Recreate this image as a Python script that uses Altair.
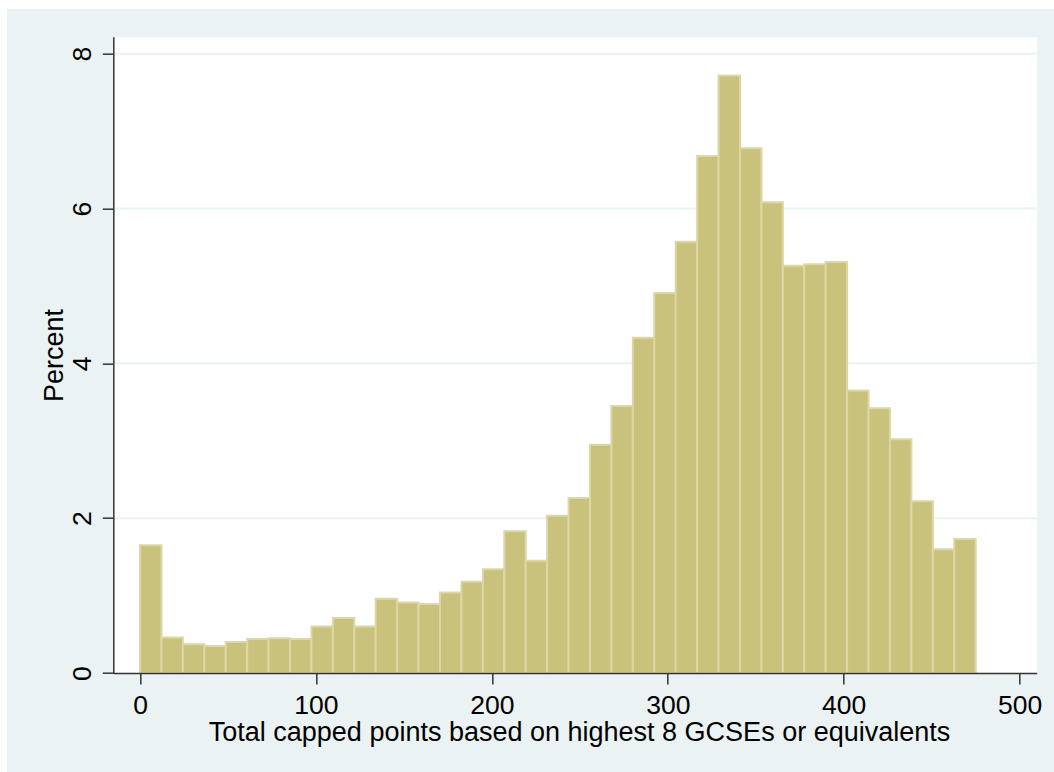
import altair as alt
import pandas as pd

# Histogram of capped GCSE point scores (percent of pupils in each bin)
BIN_WIDTH = 12.18
percent = [
    1.65, 0.46, 0.37, 0.35, 0.40, 0.44, 0.45, 0.44, 0.60, 0.71,
    0.60, 0.96, 0.91, 0.89, 1.04, 1.18, 1.34, 1.83, 1.45, 2.03,
    2.26, 2.95, 3.45, 4.33, 4.91, 5.57, 6.68, 7.72, 6.78, 6.08,
    5.26, 5.28, 5.31, 3.65, 3.42, 3.02, 2.22, 1.60, 1.73,
]
x_ticks = [0, 100, 200, 300, 400, 500]
y_ticks = [0, 2, 4, 6, 8]
y_grid = [2, 4, 6, 8]

x_title = "Total capped points based on highest 8 GCSEs or equivalents"
y_title = "Percent"

bins = pd.DataFrame({
    "start": [i * BIN_WIDTH for i in range(len(percent))],
    "end": [(i + 1) * BIN_WIDTH for i in range(len(percent))],
    "percent": percent,
})
grid_df = pd.DataFrame({"percent": y_grid})

FONT = "Liberation Sans"
BG = "#EAF2F3"
FILL = "#C9C27D"
EDGE = "#DCD7A3"
AXIS = "#333333"
FS_LABEL = 26.5
FS_TITLE = 27

W, H = 923.4, 636.3
PAD = {"left": 113.3, "top": 36.7, "right": 17.3, "bottom": 99}

x_scale = alt.Scale(domain=[-15.2, 509.7], nice=False, zero=False)
y_scale = alt.Scale(domain=[0, 8.22], nice=False, zero=False)

x_axis = alt.Axis(
    values=x_ticks, grid=False, zindex=1,
    domainColor=AXIS, domainWidth=1.5,
    tickColor=AXIS, tickWidth=1.5, tickSize=11,
    labelFont=FONT, labelFontSize=FS_LABEL, labelColor="black",
    labelAngle=0, labelBaseline="alphabetic", labelPadding=29.5,
    labelFlush=False, labelOverlap=False,
    title=x_title, titleFont=FONT, titleFontSize=FS_TITLE, titleFontWeight="normal",
    titleColor="black", titleAlign="center", titleBaseline="alphabetic",
    titleX=465.7, titleY=67.5,
)
y_axis = alt.Axis(
    values=y_ticks, grid=False, zindex=1,
    domainColor=AXIS, domainWidth=1.5,
    tickColor=AXIS, tickWidth=1.5, tickSize=11,
    labelFont=FONT, labelFontSize=FS_LABEL, labelColor="black",
    labelAngle=270, labelAlign="center", labelBaseline="alphabetic",
    labelPadding=12.3, labelOverlap=False, labelFlush=False,
    title=y_title, titleFont=FONT, titleFontSize=FS_TITLE, titleFontWeight="normal",
    titleColor="black", titleAngle=270, titleAlign="center",
    titleBaseline="alphabetic", titleX=-51, titleY=318.2,
)

# thin white margin along the top and left edges of the graph region
blank = alt.Data(values=[{}])
strip_left = alt.Chart(blank).mark_rect(color="white").encode(
    x=alt.value(-PAD["left"]), x2=alt.value(-PAD["left"] + 7),
    y=alt.value(-PAD["top"]), y2=alt.value(H + PAD["bottom"]),
)
strip_top = alt.Chart(blank).mark_rect(color="white").encode(
    x=alt.value(-PAD["left"]), x2=alt.value(W + PAD["right"]),
    y=alt.value(-PAD["top"]), y2=alt.value(-PAD["top"] + 9),
)

grid = alt.Chart(grid_df).mark_rule(color=BG, strokeWidth=2).encode(
    x=alt.value(1), x2=alt.value(W),
    y=alt.Y("percent:Q", scale=y_scale, axis=y_axis),
)

bars = alt.Chart(bins).mark_rect(fill=FILL, stroke=EDGE, strokeWidth=2).encode(
    x=alt.X("start:Q", scale=x_scale, axis=x_axis),
    x2="end:Q",
    y=alt.Y("percent:Q", scale=y_scale, axis=y_axis),
    y2=alt.datum(0),
)

chart = alt.layer(strip_left, strip_top, grid, bars).properties(
    width=W, height=H,
    background=BG,
    padding=PAD,
    autosize=alt.AutoSizeParams(type="none"),
).configure_view(stroke="transparent", fill="white")

chart.save("out.html", embed_options={"renderer": "svg", "actions": False})
